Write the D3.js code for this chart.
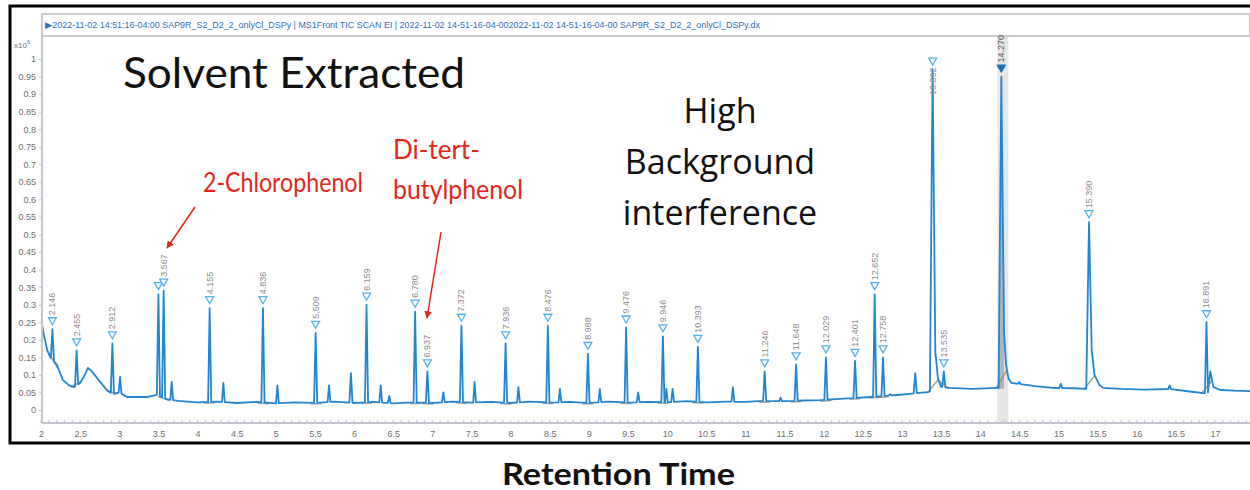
<!DOCTYPE html>
<html>
<head>
<meta charset="utf-8">
<script src="https://cdn.jsdelivr.net/npm/d3@7"></script>
<style>
  body { margin: 0; background: #fff; }
  svg { display: block; }
</style>
</head>
<body>
<svg id="chart" width="1250" height="490"></svg>
<script>
// labelled peaks (retention time, intensity x10^6)
const peakTimes = [2.146, 2.455, 2.912, 3.50, 3.567, 4.155, 4.836, 5.509, 6.159, 6.780, 6.937, 7.372, 7.936, 8.476, 8.988,
  9.476, 9.946, 10.393, 11.246, 11.648, 12.029, 12.401, 12.652, 12.758, 13.392, 13.535, 14.270, 15.390, 16.891]
const peakHeights = [0.23, 0.17, 0.19, 0.33, 0.34, 0.29, 0.29, 0.22, 0.30, 0.28, 0.11, 0.24, 0.19, 0.24, 0.16,
  0.235, 0.21, 0.18, 0.11, 0.13, 0.15, 0.14, 0.33, 0.15, 0.97, 0.11, 0.95, 0.535, 0.25]
const peakLabels = ['2.146', '2.455', '2.912', '', '3.567', '4.155', '4.836', '5.509', '6.159', '6.780', '6.937', '7.372', '7.936', '8.476', '8.988',
  '9.476', '9.946', '10.393', '11.246', '11.648', '12.029', '12.401', '12.652', '12.758', '13.392', '13.535', '14.270', '15.390', '16.891']

// small unlabelled peaks
const minorTimes = [3.01, 3.67, 4.33, 5.02, 5.68, 5.96, 6.34, 6.45, 7.14, 7.54, 8.10, 8.63, 9.14, 9.63, 9.99, 10.07, 10.84, 11.45, 12.85, 13.17, 14.50, 15.03, 16.42]
const minorHeights = [0.094, 0.08, 0.077, 0.07, 0.07, 0.105, 0.07, 0.04, 0.05, 0.08, 0.065, 0.06, 0.06, 0.05, 0.06, 0.06, 0.065, 0.035, 0.045, 0.105, 0.08, 0.075, 0.07]

// baseline of the trace
const baseTimes = [2.00, 2.04, 2.08, 2.12, 2.20, 2.28, 2.36, 2.42, 2.50, 2.56, 2.60, 2.65, 2.72, 2.84, 2.92, 3.00, 3.10, 3.35, 3.48,
  3.62, 3.75, 4.00, 4.25, 4.50, 4.75, 5.00, 5.25, 5.50, 5.75, 6.00, 6.25, 6.50, 6.75, 7.00, 7.25, 7.50, 7.75, 8.00, 8.25, 8.50,
  8.75, 9.00, 9.25, 9.50, 9.75, 10.00, 10.25, 10.50, 10.75, 11.00, 11.25, 11.50, 11.75, 11.95, 12.30, 12.60, 12.90, 13.10, 13.32,
  13.37, 13.43, 13.46, 13.50, 13.61, 13.90, 14.21, 14.235, 14.305, 14.33, 14.36, 14.40, 14.70, 14.93, 15.20, 15.36, 15.425, 15.46,
  15.52, 15.57, 15.80, 16.10, 16.42, 16.70, 16.85, 16.91, 16.94, 16.98, 17.07, 17.25, 17.45]
const baseValues = [0.26, 0.21, 0.17, 0.15, 0.13, 0.085, 0.07, 0.065, 0.077, 0.10, 0.12, 0.11, 0.09, 0.057, 0.045, 0.05, 0.037, 0.037, 0.043,
  0.03, 0.026, 0.022, 0.024, 0.02, 0.023, 0.019, 0.022, 0.02, 0.024, 0.02, 0.023, 0.019, 0.022, 0.02, 0.024, 0.021, 0.023, 0.02,
  0.024, 0.021, 0.023, 0.02, 0.024, 0.021, 0.023, 0.022, 0.025, 0.022, 0.024, 0.023, 0.026, 0.025, 0.027, 0.028, 0.033, 0.037, 0.042, 0.046, 0.051,
  0.053, 0.16, 0.09, 0.066, 0.063, 0.06, 0.063, 0.063, 0.22, 0.13, 0.09, 0.077, 0.068, 0.063, 0.062, 0.06, 0.17, 0.1,
  0.072, 0.063, 0.06, 0.058, 0.06, 0.052, 0.048, 0.048, 0.11, 0.065, 0.057, 0.055, 0.054]

const xTicks = d3.range(2, 17.01, 0.5)
const yTicks = d3.range(0, 1.001, 0.05)

const headerText = '\u25B62022-11-02 14:51:16-04:00 SAP9R_S2_D2_2_onlyCl_DSPy | MS1Front TIC SCAN EI | 2022-11-02 14-51-16-04-002022-11-02 14-51-16-04-00 SAP9R_S2_D2_2_onlyCl_DSPy.dx'

const svg = d3.select('#chart')
const plot = { left: 42, right: 1250, top: 37, bottom: 423 }

const x = d3.scaleLinear().domain([2, 17]).range([41, 1215])
const y = d3.scaleLinear().domain([0, 1]).range([410, 59])
const baseAt = d3.scaleLinear().domain(baseTimes).range(baseValues)

// outer frame
svg.append('rect')
  .attr('x', 10).attr('y', 6).attr('width', 1245).attr('height', 437)
  .attr('fill', 'none').attr('stroke', '#000').attr('stroke-width', 3)

// header bar
svg.append('rect')
  .attr('x', plot.left).attr('y', 14).attr('width', plot.right - plot.left).attr('height', 22)
  .attr('fill', '#fff').attr('stroke', '#c9c9d2').attr('stroke-width', 2)
svg.append('text')
  .attr('x', 45).attr('y', 28)
  .attr('font-family', 'Liberation Sans, Arial, sans-serif')
  .attr('font-size', 8.5)
  .attr('fill', '#2f6fb6')
  .attr('textLength', 715)
  .attr('lengthAdjust', 'spacingAndGlyphs')
  .text(headerText)

// highlighted band around the 14.270 peak
svg.append('rect')
  .attr('x', x(14.22)).attr('y', plot.top).attr('width', x(14.36) - x(14.22)).attr('height', plot.bottom - plot.top)
  .attr('fill', '#e6e6e6')

// axes
const yAxis = svg.append('g')
  .attr('transform', `translate(${plot.left},0)`)
  .call(d3.axisLeft(y).tickValues(yTicks).tickSize(3).tickPadding(3).tickFormat(d => String(+d.toFixed(2))))
yAxis.select('.domain').remove()
yAxis.append('line')
  .attr('x1', 0).attr('x2', 0).attr('y1', plot.top).attr('y2', plot.bottom)
  .attr('stroke', '#c4c4cc').attr('stroke-width', 2)

const xAxis = svg.append('g')
  .attr('transform', `translate(0,${plot.bottom})`)
  .call(d3.axisBottom(x).tickValues(xTicks).tickSize(0).tickPadding(8).tickFormat(d => String(+d.toFixed(1))))
xAxis.select('.domain').remove()
xAxis.append('line')
  .attr('x1', plot.left).attr('x2', plot.right).attr('y1', 0).attr('y2', 0)
  .attr('stroke', '#c4c4cc').attr('stroke-width', 2)
xAxis.selectAll('.minor')
  .data(d3.range(2, 17.45, 0.1))
  .join('line')
  .attr('class', 'minor')
  .attr('x1', d => x(d)).attr('x2', d => x(d))
  .attr('y1', -3).attr('y2', 0)
  .attr('stroke', '#c4c4cc')

svg.selectAll('.tick line').attr('stroke', '#c4c4cc')
svg.selectAll('.tick text')
  .attr('font-family', 'Liberation Sans, Arial, sans-serif')
  .attr('font-size', 9)
  .attr('fill', '#6e6e6e')

// y multiplier
const mult = svg.append('text')
  .attr('x', 14).attr('y', 48)
  .attr('font-family', 'Liberation Sans, Arial, sans-serif')
  .attr('font-size', 8)
  .attr('fill', '#6e6e6e')
mult.append('tspan').text('x10')
mult.append('tspan').attr('dy', -4).attr('font-size', 6).text('6')

// build the trace from baseline + peaks
const allPeaks = peakTimes.map((t, i) => ({ t, h: peakHeights[i] }))
  .concat(minorTimes.map((t, i) => ({ t, h: minorHeights[i] })))
const halfWidth = p => p.h > 0.5 ? 0.035 : (p.h > 0.1 ? 0.02 : 0.018)

const trace = baseTimes
  .map((t, i) => [t, baseValues[i]])
  .filter(([t]) => !allPeaks.some(p => t > p.t - halfWidth(p) && t < p.t + halfWidth(p)))
allPeaks.forEach(p => {
  const w = halfWidth(p)
  trace.push([p.t - w, baseAt(p.t - w)], [p.t, p.h], [p.t + w, baseAt(p.t + w)])
})
trace.sort((a, b) => a[0] - b[0])

svg.append('clipPath').attr('id', 'clip')
  .append('rect').attr('x', plot.left + 1).attr('y', plot.top).attr('width', plot.right - plot.left).attr('height', plot.bottom - plot.top)

const chart = svg.append('g').attr('clip-path', 'url(#clip)')

// filled area of the highlighted peak
chart.append('path')
  .datum(trace.filter(d => d[0] >= 14.235 && d[0] <= 14.305))
  .attr('fill', '#b4b4b4')
  .attr('d', d3.area().x(d => x(d[0])).y0(y(0.06)).y1(d => y(d[1])))

// integration baselines
chart.selectAll('.intbase')
  .data(peakTimes.filter((t, i) => peakLabels[i] !== ''))
  .join('line')
  .attr('class', 'intbase')
  .attr('x1', t => x(t - 0.07)).attr('x2', t => x(t + 0.07))
  .attr('y1', t => y(baseAt(t - 0.07)) + 1).attr('y2', t => y(baseAt(t + 0.07)) + 1)
  .attr('stroke', '#8e8680').attr('stroke-width', 1.5).attr('opacity', 0.8)

chart.append('path')
  .datum(trace)
  .attr('fill', 'none')
  .attr('stroke', '#2186cf')
  .attr('stroke-width', 1.8)
  .attr('stroke-linejoin', 'round')
  .attr('d', d3.line().x(d => x(d[0])).y(d => y(d[1])))

// peak markers and labels (labels read bottom to top)
const markers = svg.append('g')
peakTimes.forEach((t, i) => {
  const px = x(t)
  const cy = y(peakHeights[i]) - 8
  const filled = peakLabels[i] === '14.270'
  markers.append('path')
    .attr('d', `M${px - 4},${cy - 3.5}L${px + 4},${cy - 3.5}L${px},${cy + 3.5}Z`)
    .attr('fill', filled ? '#1c6fb8' : '#fff')
    .attr('stroke', filled ? '#1c6fb8' : '#55b2e8')
    .attr('stroke-width', 1.3)
  if (!peakLabels[i]) return
  const above = cy - 36 > 28
  markers.append('text')
    .attr('transform', above ? `translate(${px},${cy - 6}) rotate(-90)` : `translate(${px},${cy + 6}) rotate(-90)`)
    .attr('text-anchor', above ? 'start' : 'end')
    .attr('dominant-baseline', 'central')
    .attr('font-family', 'Liberation Sans, Arial, sans-serif')
    .attr('font-size', 9)
    .attr('fill', filled ? '#555' : '#8a8a8a')
    .text(peakLabels[i])
})

// annotations
svg.append('text')
  .attr('x', 123).attr('y', 88)
  .attr('font-family', 'Lato, sans-serif').attr('font-size', 42).attr('fill', '#111')
  .attr('textLength', 342).attr('lengthAdjust', 'spacingAndGlyphs')
  .text('Solvent Extracted')

;['High', 'Background', 'interference'].forEach((s, i) => {
  svg.append('text')
    .attr('x', 720).attr('y', 123 + i * 51)
    .attr('text-anchor', 'middle')
    .attr('font-family', 'Open Sans, sans-serif').attr('font-size', 34).attr('fill', '#111')
    .text(s)
})

const red = '#e3261c'
svg.append('defs').append('marker')
  .attr('id', 'arrow').attr('viewBox', '0 0 10 10').attr('refX', 9).attr('refY', 5)
  .attr('markerWidth', 5).attr('markerHeight', 5).attr('orient', 'auto')
  .append('path').attr('d', 'M0,0L10,5L0,10Z').attr('fill', red)

svg.append('text')
  .attr('x', 203).attr('y', 192)
  .attr('font-family', 'Lato, sans-serif').attr('font-size', 26).attr('fill', red)
  .attr('textLength', 160).attr('lengthAdjust', 'spacingAndGlyphs')
  .text('2-Chlorophenol')
svg.append('line')
  .attr('x1', 195).attr('y1', 207).attr('x2', 167).attr('y2', 248)
  .attr('stroke', red).attr('stroke-width', 1.5).attr('marker-end', 'url(#arrow)')

const red2 = svg.append('g')
  .attr('font-family', 'Lato, sans-serif').attr('font-size', 26).attr('fill', red)
red2.append('text').attr('x', 393).attr('y', 159).text('Di-tert-')
red2.append('text').attr('x', 393).attr('y', 199)
  .attr('textLength', 130).attr('lengthAdjust', 'spacingAndGlyphs')
  .text('butylphenol')
svg.append('line')
  .attr('x1', 441).attr('y1', 232).attr('x2', 427).attr('y2', 318)
  .attr('stroke', red).attr('stroke-width', 1.5).attr('marker-end', 'url(#arrow)')

svg.append('text')
  .attr('x', 502).attr('y', 485)
  .attr('font-family', 'Lato, sans-serif').attr('font-size', 30).attr('font-weight', 'bold').attr('fill', '#111')
  .attr('textLength', 233).attr('lengthAdjust', 'spacingAndGlyphs')
  .text('Retention Time')
</script>
</body>
</html>
